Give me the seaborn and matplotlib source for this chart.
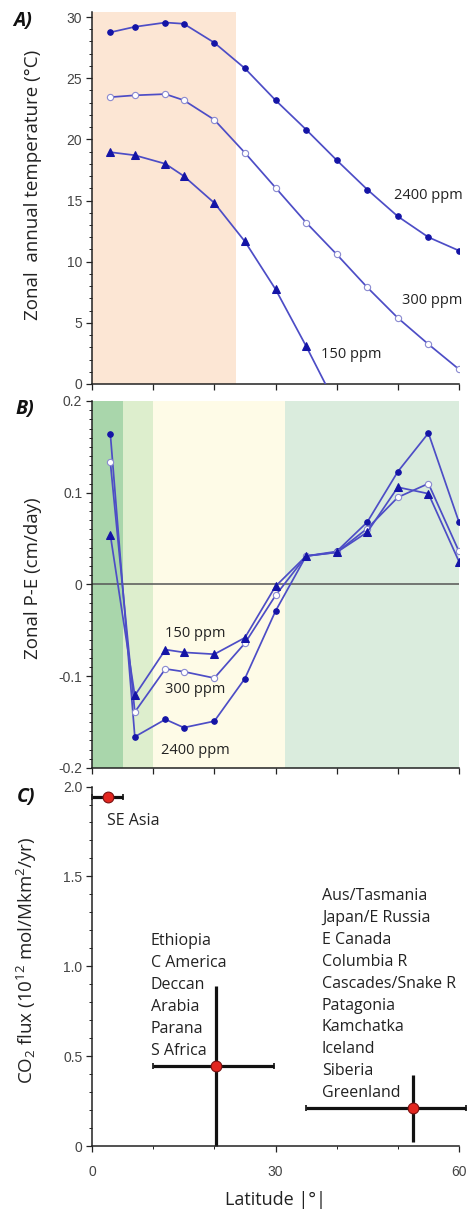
import matplotlib
matplotlib.use("Agg")
import numpy as np
import matplotlib.pyplot as plt
import seaborn as sns
from matplotlib.ticker import MultipleLocator, FixedLocator, FuncFormatter

# ---------------- data ----------------
lat = [3, 7, 12, 15, 20, 25, 30, 35, 40, 45, 50, 55, 60]

temp_2400 = [28.75, 29.2, 29.55, 29.45, 27.9, 25.8, 23.2, 20.8, 18.3, 15.9, 13.7, 12.0, 10.9]
temp_300 = [23.45, 23.6, 23.7, 23.2, 21.6, 18.9, 16.05, 13.2, 10.6, 7.9, 5.4, 3.25, 1.2]
lat_150 = [3, 7, 12, 15, 20, 25, 30, 35, 40]
temp_150 = [18.95, 18.7, 18.0, 17.0, 14.8, 11.65, 7.75, 3.1, -1.8]

pe_2400 = [0.164, -0.166, -0.147, -0.156, -0.149, -0.1025, -0.029, 0.031, 0.036, 0.068, 0.123, 0.165, 0.068]
pe_300 = [0.133, -0.139, -0.092, -0.095, -0.102, -0.064, -0.012, 0.031, 0.035, 0.061, 0.095, 0.110, 0.036]
pe_150 = [0.054, -0.121, -0.071, -0.074, -0.076, -0.058, -0.002, 0.031, 0.035, 0.057, 0.106, 0.099, 0.025]

flux_lat = [2.6, 20.2, 52.4]
flux = [1.94, 0.445, 0.21]
flux_lat_err_lo = [2.6, 10.2, 17.4]
flux_lat_err_hi = [2.5, 9.6, 8.7]
flux_err = [0.0, 0.445, 0.185]

region_se = ["SE Asia"]
region_mid = ["Ethiopia", "C America", "Deccan", "Arabia", "Parana", "S Africa"]
region_high = ["Aus/Tasmania", "Japan/E Russia", "E Canada", "Columbia R", "Cascades/Snake R",
               "Patagonia", "Kamchatka", "Iceland", "Siberia", "Greenland"]

band_a = [(0, 23.5)]
bands_b = [(0, 5), (5, 10), (10, 31.5), (31.5, 60)]

# ---------------- style ----------------
sns.set_theme(style="ticks")
plt.rcParams['font.family'] = ['Open Sans', 'DejaVu Sans']
plt.rcParams['mathtext.fontset'] = 'custom'
plt.rcParams['mathtext.rm'] = 'Open Sans'
plt.rcParams['mathtext.it'] = 'Open Sans:italic'

LINE = '#4d4dc6'
MK = '#1414a6'
TICKFONT = 'Liberation Sans'
TXT = '#222222'

fig = plt.figure(figsize=(4.70, 12.14), dpi=100)
L, W = 92 / 470, 367 / 470
axA = fig.add_axes([L, 0.6837, W, 0.3063])
axB = fig.add_axes([L, 0.3674, W, 0.3023])
axC = fig.add_axes([L, 0.0560, W, 0.2961])


def style_axis(ax):
    for s in ['top', 'right']:
        ax.spines[s].set_visible(False)
    for s in ['left', 'bottom']:
        ax.spines[s].set_linewidth(1.1)
        ax.spines[s].set_color('#222222')
    ax.tick_params(which='major', direction='out', length=4, width=0.9, color='#222222',
                   labelsize=10, labelcolor='#444444', pad=3)
    ax.tick_params(which='minor', direction='out', length=2.2, width=0.7, color='#222222')
    for lbl in ax.get_xticklabels() + ax.get_yticklabels():
        lbl.set_fontfamily(TICKFONT)
    ax.set_facecolor('white')
    ax.set_xlim(0, 60)


# ---------------- panel A ----------------
for a, b in band_a:
    axA.axvspan(a, b, color='#fce6d4', lw=0, zorder=0)
sns.lineplot(x=lat, y=temp_2400, ax=axA, color=LINE, lw=1.25, marker='o', markersize=4.0,
             markerfacecolor=MK, markeredgecolor=MK, zorder=3)
sns.lineplot(x=lat, y=temp_300, ax=axA, color=LINE, lw=1.25, marker='o', markersize=4.5,
             markerfacecolor='white', markeredgecolor='#8a8ad0', markeredgewidth=0.8, zorder=3)
sns.lineplot(x=lat_150, y=temp_150, ax=axA, color=LINE, lw=1.25, marker='^', markersize=5.2,
             markerfacecolor=MK, markeredgecolor=MK, zorder=3)
axA.set_ylim(0, 30.4)
axA.yaxis.set_major_locator(FixedLocator([0, 5, 10, 15, 20, 25, 30]))
axA.yaxis.set_minor_locator(MultipleLocator(1))
axA.xaxis.set_major_locator(MultipleLocator(10))
axA.text(49.3, 15.45, "2400 ppm", fontsize=10.5, ha='left', va='center', color=TXT)
axA.text(50.6, 6.8, "300 ppm", fontsize=10.5, ha='left', va='center', color=TXT)
axA.text(37.4, 2.37, "150 ppm", fontsize=10.5, ha='left', va='center', color=TXT)
axA.set_ylabel("Zonal  annual temperature (°C)", fontsize=13.5, color=TXT)
style_axis(axA)
axA.set_xticklabels([])
axA.yaxis.set_label_coords(-0.135, 0.535)

# ---------------- panel B ----------------
band_cols = ['#a9d6ab', '#ddeecd', '#fefbe7', '#daecdd']
for (a, b), c in zip(bands_b, band_cols):
    axB.axvspan(a, b, color=c, lw=0, zorder=0)
axB.axhline(0, color='#555555', lw=1.1, zorder=1)
sns.lineplot(x=lat, y=pe_2400, ax=axB, color=LINE, lw=1.25, marker='o', markersize=4.0,
             markerfacecolor=MK, markeredgecolor=MK, zorder=3)
sns.lineplot(x=lat, y=pe_300, ax=axB, color=LINE, lw=1.25, marker='o', markersize=4.5,
             markerfacecolor='white', markeredgecolor='#8a8ad0', markeredgewidth=0.8, zorder=3)
sns.lineplot(x=lat, y=pe_150, ax=axB, color=LINE, lw=1.25, marker='^', markersize=5.2,
             markerfacecolor=MK, markeredgecolor=MK, zorder=3)
axB.set_ylim(-0.2, 0.2)
axB.yaxis.set_major_locator(FixedLocator([-0.2, -0.1, 0, 0.1, 0.2]))
axB.yaxis.set_minor_locator(MultipleLocator(0.01))
axB.yaxis.set_major_formatter(FuncFormatter(lambda v, p: "0" if abs(v) < 1e-9 else "%.1f" % v))
axB.xaxis.set_major_locator(MultipleLocator(10))
axB.text(12.0, -0.0535, "150 ppm", fontsize=10.5, ha='left', va='center', color=TXT)
axB.text(12.0, -0.115, "300 ppm", fontsize=10.5, ha='left', va='center', color=TXT)
axB.text(11.3, -0.181, "2400 ppm", fontsize=10.5, ha='left', va='center', color=TXT)
axB.set_ylabel("Zonal P-E (cm/day)", fontsize=13.5, color=TXT)
style_axis(axB)
axB.set_xticklabels([])
axB.yaxis.set_label_coords(-0.135, 0.518)

# ---------------- panel C ----------------
axC.errorbar(flux_lat, flux, xerr=[flux_lat_err_lo, flux_lat_err_hi], fmt='none',
             ecolor='#111111', elinewidth=2.3, capsize=2.5, capthick=1.2, zorder=2, clip_on=False)
axC.errorbar(flux_lat, flux, yerr=flux_err, fmt='none',
             ecolor='#111111', elinewidth=2.3, capsize=0, zorder=2, clip_on=False)
sns.scatterplot(x=flux_lat, y=flux, ax=axC, s=60, color='#e3261f', edgecolor='#7a1010',
                linewidth=0.8, zorder=4, clip_on=False)
axC.set_ylim(0, 2.0)
axC.yaxis.set_major_locator(FixedLocator([0, 0.5, 1.0, 1.5, 2.0]))
axC.yaxis.set_minor_locator(MultipleLocator(0.1))
axC.yaxis.set_major_formatter(FuncFormatter(lambda v, p: "0" if abs(v) < 1e-9 else "%.1f" % v))
axC.xaxis.set_major_locator(FixedLocator([0, 30, 60]))
axC.xaxis.set_minor_locator(FixedLocator([10, 20, 40, 50]))

axC.text(2.4, 1.81, region_se[0], fontsize=11.5, ha='left', va='center', color=TXT)
for i, name in enumerate(region_mid):
    axC.text(9.6, 1.14 - i * 0.122, name, fontsize=11.5, ha='left', va='center', color=TXT)
for i, name in enumerate(region_high):
    axC.text(37.6, 1.39 - i * 0.1217, name, fontsize=11.5, ha='left', va='center', color=TXT)

axC.set_ylabel("CO$_2$ flux (10$^{12}$ mol/Mkm$^2$/yr)", fontsize=13.5, color=TXT)
axC.set_xlabel("Latitude |°|", fontsize=13, color=TXT)
style_axis(axC)
axC.tick_params(axis='x', which='major', pad=10)
axC.yaxis.set_label_coords(-0.145, 0.517)
axC.xaxis.set_label_coords(0.5, -0.125)

# panel letters
for txt, x, y in [("A)", 0.027, 0.9827), ("B)", 0.033, 0.663), ("C)", 0.035, 0.3435)]:
    fig.text(x, y, txt, fontsize=14, fontweight='bold', fontstyle='italic',
             ha='left', va='center', color='#111111')

fig.savefig("out.png", dpi=100)
